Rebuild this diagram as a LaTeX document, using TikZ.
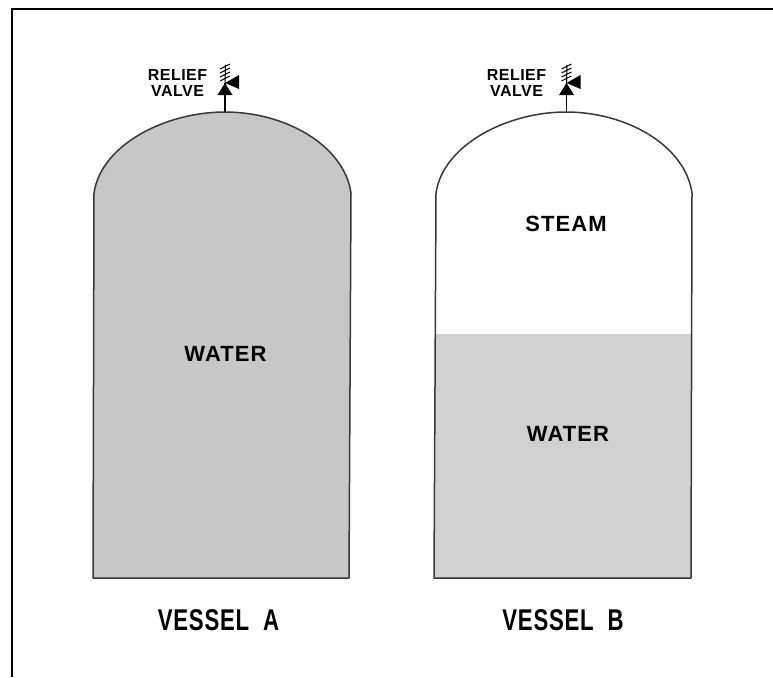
\documentclass[tikz,border=0pt]{standalone}
\usepackage{fontspec}
\usepackage{tikz}
\setmainfont{Liberation Sans}
\newfontfamily\wordfont[LetterSpace=5]{Liberation Sans}
\newfontfamily\capfont[FakeStretch=0.74,LetterSpace=2.5,WordSpace=2]{Liberation Sans}
\newfontfamily\tagfont[LetterSpace=3]{Liberation Sans}

\definecolor{waterA}{gray}{0.78}
\definecolor{waterB}{gray}{0.815}
\definecolor{wall}{gray}{0.22}

\begin{document}
\begin{tikzpicture}[
      x=1pt, y=-1pt,
      wall/.style={draw=wall, line width=1.5pt, line join=round},
      frameln/.style={line width=2pt},
      word/.style={font=\wordfont\fontsize{22}{22}\selectfont\bfseries, inner sep=0pt},
      ttl/.style={font=\capfont\fontsize{30}{30}\selectfont\bfseries, inner sep=0pt},
      tag/.style={font=\tagfont\fontsize{16}{15.5}\selectfont\bfseries, inner sep=0pt, align=center},
      reliefvalve/.pic={
        %% origin sits on the crown of the dome, the stem goes up from it
        \coordinate (crown) at (0,0);
        \coordinate (seat) at (0,-29);
        \draw[line width=1.3pt] (crown) -- (seat);
        \fill (seat) -- (-7.5,-17) -- (7.5,-17) -- cycle;
        \fill (seat) -- (14,-37) -- (14,-23) -- cycle;
        \draw[line width=1pt] (seat) -- (0.5,-47)
          (-5,-31) -- (5,-36) (-5,-35) -- (5,-40) (-5,-39) -- (5,-44) (-5,-43) -- (5,-48);
      }]

    %% Geometry: px of the 773x677 sheet, y runs down
    \useasboundingbox (0,0) rectangle (773,677);
    \fill[white] (0,0) rectangle (773,677);

    %% sheet edge: only top and left are drawn
    \coordinate (tl) at (12,9.5);
    \draw[frameln] (12,677) -- (tl) -- (773,9.5);

    %% ---- vessel A, full of water ----
    \path[wall, fill=waterA] (94,193) .. controls (101,145) and (165,112) .. (225,112)
      .. controls (285,112) and (344,145) .. (351,193) -- (349,578) -- (93,578) -- cycle;
    \pic at (225,112) {reliefvalve};
    \node[tag] (tagA) at (177.5,83) {RELIEF\\VALVE};
    \node[word] (waterlblA) at (225.5,353.5) {WATER};
    \node[ttl] (ttlA) at (218.5,620) {VESSEL A};

    %% ---- vessel B, water below and steam above ----
    \fill[waterB] (435.5,334) -- (691.7,334) -- (691,578) -- (434,578) -- cycle;
    \path[wall] (436,193) .. controls (443,145) and (507,112) .. (566,112)
      .. controls (626,112) and (685,145) .. (692,193) -- (691,578) -- (434,578) -- cycle;
    \pic at (566.5,112) {reliefvalve};
    \node[tag] (tagB) at (516.5,83) {RELIEF\\VALVE};
    \node[word] (steamlbl) at (566,223.5) {STEAM};
    \node[word] (waterlblB) at (568,433.5) {WATER};
    \node[ttl] (ttlB) at (563,620) {VESSEL B};
  \end{tikzpicture}
\end{document}
